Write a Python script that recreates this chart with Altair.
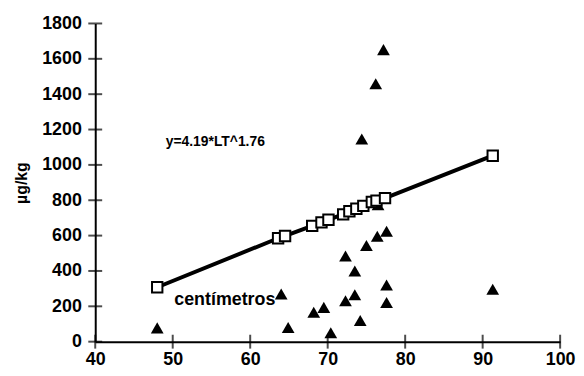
import altair as alt
import pandas as pd

# Observed values (triangles)
tri_x = [48, 64, 64.9, 68.2, 69.5, 70.4, 72.3, 72.3, 73.5, 73.5, 74.2, 74.4, 75.0, 76.2, 76.4, 76.5, 77.2, 77.6, 77.6, 77.6, 91.3]
tri_y = [78, 270, 80, 166, 194, 50, 484, 232, 400, 265, 120, 1147, 544, 1459, 596, 775, 1652, 624, 320, 222, 297]

# Fitted values (squares)
sq_x = [48, 63.6, 64.5, 68.0, 69.2, 70.1, 72.0, 72.8, 73.7, 74.6, 75.7, 76.3, 77.4, 91.3]
sq_y = [308, 585, 598, 655, 675, 690, 720, 738, 752, 768, 790, 798, 812, 1052]

x_ticks = [40, 50, 60, 70, 80, 90, 100]
y_ticks = [0, 200, 400, 600, 800, 1000, 1200, 1400, 1600, 1800]

ann_text = ["y=4.19*LT^1.76", "centímetros"]
ann_x = [49.1, 50.2]
ann_y = [1127, 235]
ann_size = [14, 18]

FONT = "Liberation Sans"

tri = pd.DataFrame({"x": tri_x, "y": tri_y})
sq = pd.DataFrame({"x": sq_x, "y": sq_y})
xt = pd.DataFrame({"x": x_ticks, "y": [0] * len(x_ticks)})
yt = pd.DataFrame({"x": [40] * len(y_ticks), "y": y_ticks})
ann = pd.DataFrame({"t": ann_text, "x": ann_x, "y": ann_y, "s": ann_size})

xs = alt.Scale(domain=[40, 100], nice=False, zero=False)
ys = alt.Scale(domain=[0, 1800], nice=False)

xaxis = alt.Axis(values=x_ticks, ticks=False, grid=False, domainColor="black", domainWidth=2,
                 labelFont=FONT, labelFontSize=18, labelFontWeight="bold", labelColor="black",
                 labelPadding=9, title=None, format="d", labelOverlap=False, labelFlush=False)
yaxis = alt.Axis(values=y_ticks, ticks=False, grid=False, domainColor="black", domainWidth=2,
                 labelFont=FONT, labelFontSize=18, labelFontWeight="bold", labelColor="black",
                 labelPadding=14, title="µg/kg", titleFont=FONT, titleFontSize=16,
                 titleFontWeight="bold", titleColor="black", titlePadding=12,
                 format="d", labelOverlap=False, labelFlush=False)

X = alt.X("x:Q", scale=xs, axis=xaxis)
Y = alt.Y("y:Q", scale=ys, axis=yaxis)

line = alt.Chart(sq).mark_line(color="black", strokeWidth=4).encode(x=X, y=Y)
squares = alt.Chart(sq).mark_point(shape="square", filled=True, fill="white", stroke="black",
                                   strokeWidth=2, size=110, opacity=1).encode(x=X, y=Y)
triangles = alt.Chart(tri).mark_point(shape="triangle-up", filled=True, color="black",
                                      size=165, opacity=1).encode(x=X, y=Y)
xtick = alt.Chart(xt).mark_tick(orient="vertical", color="black", thickness=2, size=14).encode(x=X, y=Y)
ytick = alt.Chart(yt).mark_tick(orient="horizontal", color="black", thickness=2, size=14).encode(x=X, y=Y)
text = alt.Chart(ann).mark_text(align="left", baseline="middle", font=FONT, fontWeight="bold",
                                color="black").encode(x=X, y=Y, text="t:N",
                                                      size=alt.Size("s:Q", scale=None, legend=None))

chart = alt.layer(line, triangles, squares, xtick, ytick, text).properties(
    width=469, height=321,
    autosize=alt.AutoSizeParams(type="none"),
    padding={"left": 88, "top": 14, "right": 16, "bottom": 30},
    background="white",
).configure_view(stroke=None).configure_axis(labelOverlap=False)

chart.save("out.html", embed_options={"renderer": "svg", "actions": False})
